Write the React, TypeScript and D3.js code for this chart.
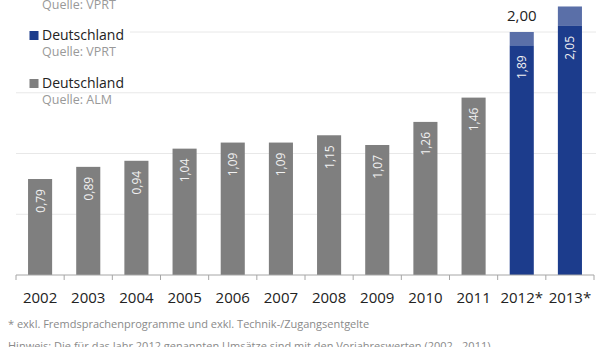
import React from 'react';
import * as d3 from 'd3';

// categories
const years = ['2002', '2003', '2004', '2005', '2006', '2007', '2008', '2009', '2010', '2011', '2012*', '2013*'];
// ALM values (gray bars), 2002-2011
const almYears = years.slice(0, 10);
const almValues = [0.79, 0.89, 0.94, 1.04, 1.09, 1.09, 1.15, 1.07, 1.26, 1.46];
// VPRT values (blue bars), 2012*-2013*
const vprtYears = ['2012*', '2013*'];
const vprtValues = [1.89, 2.05];
const vprtTotals = [2.0, 2.21];
const gridTicks = [0.5, 1, 1.5, 2];

const fmt = (v: number) => d3.format('.2f')(v).replace('.', ',');

const W = 616;
const H = 347;
const FONT = '"Open Sans", "DejaVu Sans", sans-serif';

const App = () => {
  const x = d3.scaleBand<string>()
    .domain(years)
    .range([16, 594])
    .paddingInner(0.5)
    .paddingOuter(0.25);

  const y = d3.scaleLinear()
    .domain([0, 2])
    .range([275, 32]);

  const step = x.step();
  const bw = x.bandwidth();
  const base = y(0);

  return (
    <div style={{ position: 'absolute', left: 0, top: 0 }}>
      <svg width={W} height={H} style={{ display: 'block', fontFamily: FONT, background: '#fff' }}>
        {/* grid */}
        {gridTicks.map(t => (
          <line key={t} x1={16} x2={596} y1={y(t)} y2={y(t)} stroke="#e8e8e8" strokeWidth={1} />
        ))}

        {/* gray bars */}
        {almValues.map((v, i) => {
          const cx = x(almYears[i])! + bw / 2;
          return (
            <g key={almYears[i]}>
              <rect x={x(almYears[i])} y={y(v)} width={bw} height={base - y(v)} fill="#7f7f7f" />
              <text transform={`translate(${cx},${y(v) + 10}) rotate(-90)`} textAnchor="end"
                dominantBaseline="central" fontSize={12} fill="#f2f2f2">{fmt(v)}</text>
            </g>
          );
        })}

        {/* blue bars */}
        {vprtValues.map((v, i) => {
          const k = vprtYears[i];
          const cx = x(k)! + bw / 2;
          const tot = vprtTotals[i];
          return (
            <g key={k}>
              <rect x={x(k)} y={y(tot)} width={bw} height={y(v) - y(tot)} fill="#5a6fa8" />
              <rect x={x(k)} y={y(v)} width={bw} height={base - y(v)} fill="#1c3c8c" />
              <text transform={`translate(${cx},${y(v) + 10}) rotate(-90)`} textAnchor="end"
                dominantBaseline="central" fontSize={12} fill="#f2f2f2">{fmt(v)}</text>
              <text x={cx} y={y(tot) - 11} textAnchor="middle" fontSize={15} fill="#222">{fmt(tot)}</text>
            </g>
          );
        })}

        {/* axis */}
        <line x1={16} x2={16 + step * years.length} y1={base} y2={base} stroke="#a6a6a6" />
        {d3.range(years.length + 1).map(i => (
          <line key={i} x1={16 + i * step} x2={16 + i * step} y1={base} y2={base + 5} stroke="#a6a6a6" />
        ))}
        {years.map(yr => (
          <text key={yr} x={x(yr)! + bw / 2} y={303} textAnchor="middle" fontSize={15} fill="#222">{yr}</text>
        ))}

        {/* legend */}
        <rect x={16} y={25} width={114} height={20} fill="#fff" />
        <text x={42} y={9} fontSize={12.5} fill="#999">Quelle: VPRT</text>
        <rect x={29.5} y={31} width={9} height={9} fill="#1c3c8c" />
        <text x={42} y={40} fontSize={14} fill="#222">Deutschland</text>
        <text x={42} y={56} fontSize={12.5} fill="#999">Quelle: VPRT</text>
        <rect x={29.5} y={79} width={9} height={9} fill="#7f7f7f" />
        <text x={42} y={88} fontSize={14} fill="#222">Deutschland</text>
        <text x={42} y={104} fontSize={12.5} fill="#999">Quelle: ALM</text>

        {/* footnotes */}
        <text x={8} y={328} fontSize={11} fill="#8a8a8a">* exkl. Fremdsprachenprogramme und exkl. Technik-/Zugangsentgelte</text>
        <text x={8} y={350} fontSize={11} fill="#8a8a8a">Hinweis: Die für das Jahr 2012 genannten Umsätze sind mit den Vorjahreswerten (2002 - 2011)</text>
      </svg>
    </div>
  );
};

export default App;
